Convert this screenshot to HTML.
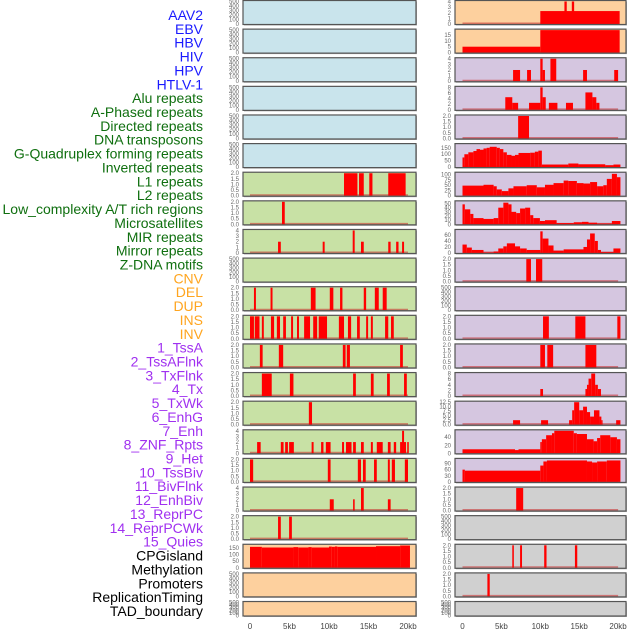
<!DOCTYPE html>
<html><head><meta charset="utf-8">
<style>
html,body{margin:0;padding:0;background:#fff;}
svg{display:block;font-family:"Liberation Sans",sans-serif;}
</style></head>
<body>
<svg id="chart" width="630" height="630" viewBox="0 0 630 630" xmlns="http://www.w3.org/2000/svg">
<g id="labels"></g>
<g id="panels"></g>
<g id="xaxis"></g>
</svg>
<script>
// ---- data ----
const featureLabels = ["AAV2","EBV","HBV","HIV","HPV","HTLV-1","Alu repeats","A-Phased repeats","Directed repeats","DNA transposons","G-Quadruplex forming repeats","Inverted repeats","L1 repeats","L2 repeats","Low_complexity A/T rich regions","Microsatellites","MIR repeats","Mirror repeats","Z-DNA motifs","CNV","DEL","DUP","INS","INV","1_TssA","2_TssAFlnk","3_TxFlnk","4_Tx","5_TxWk","6_EnhG","7_Enh","8_ZNF_Rpts","9_Het","10_TssBiv","11_BivFlnk","12_EnhBiv","13_ReprPC","14_ReprPCWk","15_Quies","CPGisland","Methylation","Promoters","ReplicationTiming","TAD_boundary"];
const labelGroups = [0,0,0,0,0,0,1,1,1,1,1,1,1,1,1,1,1,1,1,2,2,2,2,2,3,3,3,3,3,3,3,3,3,3,3,3,3,3,3,4,4,4,4,4];
const xTickLabels = ["0","5kb","10kb","15kb","20kb"];
const xTickValues = [0,5,10,15,20];

// intervals: [startKb, endKb, value]
const c1r6 = [[11.9,13.6,2],[13.8,14.4,2],[15.1,15.5,2],[17.5,19.7,2]];
const c1r7 = [[4.05,4.4,2]];
const c1r8 = [[3.55,3.9,2],[9.2,9.45,2],[13.0,13.25,4],[14.05,14.4,2],[17.5,17.8,2],[18.5,18.8,2],[19.25,19.5,2]];
const c1r10 = [[0.5,0.75,2],[2.6,2.85,2],[7.7,8.3,2],[10.1,10.55,2],[11.4,11.7,2],[14.4,14.7,2],[15.8,16.3,2],[16.8,17.3,2]];
const c1r11 = [[0,0.5,2],[0.6,1.2,2],[1.5,1.75,2],[2.65,3.05,2],[3.4,3.8,2],[4.2,4.55,2],[5.2,5.45,2],[5.95,6.2,2],[6.85,7.6,2],[8.0,8.5,2],[8.7,9.75,2],[11.25,11.9,2],[12.4,12.8,2],[13.55,13.9,2],[14.7,14.95,2],[15.3,15.55,2],[17.1,17.5,2],[17.85,18.2,2]];
const c1r12 = [[1.25,1.6,2],[3.65,4.2,2],[11.75,12.1,2],[12.25,12.65,2],[19.0,19.35,2]];
const c1r13 = [[1.5,2.75,2],[5.05,5.5,2],[13.05,13.4,2],[15.3,15.65,2],[17.35,17.7,2],[19.5,19.85,2]];
const c1r14 = [[7.45,7.85,2]];
const c1r15 = [[0.9,1.35,2],[3.9,4.25,2],[4.45,4.8,2],[4.95,5.55,2],[7.8,8.05,2],[9.0,9.3,2],[9.6,10.2,2],[11.65,11.9,2],[12.15,12.85,2],[13.05,13.4,2],[14.05,14.4,2],[15.3,15.55,2],[16.05,16.8,2],[17.45,17.8,2],[18.2,18.5,2],[19.0,19.75,2],[19.25,19.5,4],[19.9,20.1,2]];
const c1r16 = [[0,0.4,2],[9.85,10.2,2],[13.65,14.05,2],[14.3,14.65,2],[15.7,16.05,2],[17.45,17.7,2],[17.95,18.35,2],[19.6,20.0,2]];
const c1r17 = [[10.1,10.6,2],[13.05,13.25,2],[14.05,14.4,4],[17.45,17.8,2]];
const c1r18 = [[3.55,3.9,2],[4.95,5.3,2]];
const c1r19 = [[0,1.5,160],[1.5,5.5,155],[5.5,6.1,158],[6.1,7.4,155],[7.4,7.8,158],[7.8,10.0,155],[10.0,10.35,162],[10.35,10.75,160],[10.75,11.05,163],[11.05,15.95,160],[15.95,19.0,165],[19.0,20.25,170]];

const c2r0 = [[10.0,20.2,2.3],[13.1,13.4,4],[14.05,14.35,4]];
const c2r1 = [[0,10.0,5],[10.0,20.2,19]];
const c2r2 = [[6.5,7.4,2],[8.3,8.8,2],[10.0,10.3,4],[10.3,10.6,2],[11.3,12.05,4],[15.5,16.0,2],[19.5,20.0,2]];
const c2r3 = [[5.5,6.4,4.5],[6.4,7.15,2.5],[8.55,10.0,2.5],[10.0,10.3,8],[10.3,10.7,4.5],[11.1,12.2,2.5],[13.3,14.2,2.5],[15.8,16.7,6.2],[16.7,17.2,4.5],[17.2,17.6,2.5]];
const c2r4 = [[7.15,8.55,2]];
const c2r5 = [[0,0.24,75],[0.24,0.75,100],[0.75,1.4,115],[1.4,1.8,125],[1.8,2.25,140],[2.25,2.7,135],[2.7,3.1,145],[3.1,3.5,150],[3.5,4.4,158],[4.4,4.8,150],[4.8,5.25,140],[5.25,5.7,115],[5.7,6.3,95],[6.3,6.75,88],[6.75,7.2,95],[7.2,8.7,110],[8.7,9.3,112],[9.3,9.75,120],[9.75,10.2,128],[10.2,13.6,20],[13.6,14.9,28],[14.9,18.35,22],[18.35,19.4,15],[19.4,20.3,20]];
const c2r6 = [[0,2.7,48],[2.7,4.0,52],[4.0,4.4,45],[4.4,5.05,30],[5.05,5.9,22],[5.9,6.55,35],[6.55,8.25,45],[8.25,9.55,50],[9.55,10.6,40],[10.6,11.7,52],[11.7,13.0,60],[13.0,13.6,72],[13.6,14.7,70],[14.7,15.55,60],[15.55,16.4,58],[16.4,17.3,65],[17.3,18.1,45],[18.1,18.55,50],[18.55,19.2,80],[19.2,19.85,104],[19.85,20.3,88]];
const c2r7 = [[0,0.3,48],[0.3,1.0,36],[1.0,1.4,25],[1.4,2.7,15],[2.7,4.0,13],[4.0,4.6,15],[4.6,5.25,40],[5.25,5.9,52],[5.9,6.3,48],[6.3,6.9,30],[6.9,7.4,27],[7.4,8.05,38],[8.05,8.7,40],[8.7,9.1,22],[9.1,9.95,15],[9.95,10.6,8],[10.6,12.1,10],[12.1,14.3,3],[14.3,15.35,5],[15.35,16.2,6],[16.2,17.3,4],[17.3,19.2,2],[19.2,20.3,8]];
const c2r8 = [[0,0.55,28],[0.55,1.2,18],[1.2,2.7,10],[2.7,4.0,2],[4.0,4.6,5],[4.6,5.25,15],[5.25,5.7,22],[5.7,6.75,32],[6.75,7.4,22],[7.4,8.25,15],[8.25,10.0,10],[10.0,10.3,72],[10.3,11.05,48],[11.05,11.7,25],[11.7,13.0,8],[13.0,15.55,12],[15.55,16.0,20],[16.0,16.4,45],[16.4,17.0,65],[17.0,17.4,40],[17.4,17.8,10],[17.8,19.4,3],[19.4,20.3,15]];
const c2r9 = [[8.2,8.8,2],[9.45,10.25,2]];
const c2r11 = [[10.35,11.1,2],[14.5,15.8,2],[19.9,20.3,2]];
const c2r12 = [[10.0,10.6,2],[10.9,11.65,2],[15.8,17.2,2]];
const c2r13 = [[10.0,10.35,2.5],[15.8,16.0,2.5],[16.0,16.2,4],[16.2,16.55,6.2],[16.55,17.05,8],[17.05,17.4,4],[17.4,17.8,2.5]];
const c2r14 = [[6.5,7.4,2.5],[10.1,11.0,2.5],[13.7,14.1,2.5],[14.1,14.35,8],[14.35,15.0,12.5],[15.0,15.5,8],[15.5,16.0,10],[16.0,16.4,7],[16.4,16.9,4.5],[16.9,17.6,8],[17.6,17.85,4.5],[17.85,18.0,2.5],[19.75,20.3,2.5]];
const c2r15 = [[0,6.75,10],[6.75,7.2,8],[7.2,10.0,10],[10.0,10.2,28],[10.2,10.75,35],[10.75,11.5,45],[11.5,11.8,50],[11.8,14.3,56],[14.3,14.7,50],[14.7,16.0,48],[16.0,16.85,35],[16.85,17.3,30],[17.3,17.7,38],[17.7,19.0,45],[19.0,19.85,40],[19.85,20.3,35]];
const c2r16 = [[0,0.3,60],[0.3,10.0,55],[10.0,10.4,80],[10.4,10.85,100],[10.85,16.0,105],[16.0,16.65,100],[16.65,17.3,95],[17.3,18.55,100],[18.55,20.3,105]];
const c2r17 = [[6.9,7.8,2]];
const c2r19 = [[6.4,6.6,2],[7.4,7.65,2],[10.5,10.8,2],[14.45,14.75,2]];
const c2r20 = [[3.2,3.5,2]];
const empty = [];

const ticks500 = ["0","100","200","300","400","500"];
const ticks2 = ["0.0","0.5","1.0","1.5","2.0"];
const ticks4 = ["0","1","2","3","4"];
const ticks8 = ["0","2","4","6","8"];
const ticksGQ = ["0","50","100","150"];
const ticksL1 = ["0","25","50","75","100"];
const ticksL2 = ["0","10","20","30","40","50"];
const ticksMIR = ["0","20","40","60"];
const ticksEBV = ["0","5","10","15"];
const ticksEnh = ["0.0","2.5","5.0","7.5","10.0","12.5"];
const ticksZNF = ["0","20","40"];
const ticksHet = ["0","30","60","90"];
const ticksCpG = ["0","50","100","150"];

const BG = {blue:"#c9e4ec",green:"#c8e1a5",orange:"#fdd09e",purple:"#d5c6e0",gray:"#d0d0d0"};
// panel specs: col, row, bg, ymax, ticks, data
const panelSpecs = [];
function addP(col,row,bg,ymax,ticks,data,name){panelSpecs.push({col,row,bg,ymax,ticks,data,name});}
for(let r=0;r<6;r++) addP(0,r,"blue",500,ticks500,empty,"c1-row"+r);
addP(0,6,"green",2,ticks2,c1r6,"c1-row6");
addP(0,7,"green",2,ticks2,c1r7,"c1-row7");
addP(0,8,"green",4,ticks4,c1r8,"c1-row8");
addP(0,9,"green",500,ticks500,empty,"c1-row9");
addP(0,10,"green",2,ticks2,c1r10,"c1-row10");
addP(0,11,"green",2,ticks2,c1r11,"c1-row11");
addP(0,12,"green",2,ticks2,c1r12,"c1-row12");
addP(0,13,"green",2,ticks2,c1r13,"c1-row13");
addP(0,14,"green",2,ticks2,c1r14,"c1-row14");
addP(0,15,"green",4,ticks4,c1r15,"c1-row15");
addP(0,16,"green",2,ticks2,c1r16,"c1-row16");
addP(0,17,"green",4,ticks4,c1r17,"c1-row17");
addP(0,18,"green",2,ticks2,c1r18,"c1-row18");
addP(0,19,"orange",172,ticksCpG,c1r19,"c1-row19");
addP(0,20,"orange",500,ticks500,empty,"c1-row20");
addP(0,21,"orange",500,ticks500,empty,"c1-row21");

addP(1,0,"orange",4,ticks4,c2r0,"c2-row0");
addP(1,1,"orange",19,ticksEBV,c2r1,"c2-row1");
addP(1,2,"purple",4,ticks4,c2r2,"c2-row2");
addP(1,3,"purple",8,ticks8,c2r3,"c2-row3");
addP(1,4,"purple",2,ticks2,c2r4,"c2-row4");
addP(1,5,"purple",175,ticksGQ,c2r5,"c2-row5");
addP(1,6,"purple",107,ticksL1,c2r6,"c2-row6");
addP(1,7,"purple",54,ticksL2,c2r7,"c2-row7");
addP(1,8,"purple",75,ticksMIR,c2r8,"c2-row8");
addP(1,9,"purple",2,ticks2,c2r9,"c2-row9");
addP(1,10,"purple",500,ticks500,empty,"c2-row10");
addP(1,11,"purple",2,ticks2,c2r11,"c2-row11");
addP(1,12,"purple",2,ticks2,c2r12,"c2-row12");
addP(1,13,"purple",8,ticks8,c2r13,"c2-row13");
addP(1,14,"purple",12.5,ticksEnh,c2r14,"c2-row14");
addP(1,15,"purple",56,ticksZNF,c2r15,"c2-row15");
addP(1,16,"purple",110,ticksHet,c2r16,"c2-row16");
addP(1,17,"gray",2,ticks2,c2r17,"c2-row17");
addP(1,18,"gray",500,ticks500,empty,"c2-row18");
addP(1,19,"gray",2,ticks2,c2r19,"c2-row19");
addP(1,20,"gray",2,ticks2,c2r20,"c2-row20");
addP(1,21,"gray",500,ticks500,empty,"c2-row21");

// ---- layout ----
const NS="http://www.w3.org/2000/svg";
const colX=[{l:243,r:416,x0:250,k:7.9},{l:455,r:626,x0:462.5,k:7.78}];
const ROWPITCH=28.62;
function rowTop(r){return 0.5+r*ROWPITCH;}
function rowH(r){return r===21?14.5:24;}
function xScale(col,kb){return colX[col].x0+kb*colX[col].k;}
function mk(tag,attrs,parent){const e=document.createElementNS(NS,tag);for(const k in attrs)e.setAttribute(k,attrs[k]);parent.appendChild(e);return e;}

const labelColors=["#1a1aff","#0f6f0f","#ffa51f","#a030f0","#000000"];
const lg=document.getElementById("labels");
featureLabels.forEach((t,i)=>{
  const e=mk("text",{x:203,y:20+i*13.86,"text-anchor":"end","font-size":"14",fill:labelColors[labelGroups[i]]},lg);
  
  
  e.textContent=t;
});

const pg=document.getElementById("panels");
panelSpecs.forEach(p=>{
  const c=colX[p.col],top=rowTop(p.row),h=rowH(p.row),bot=top+h;
  const g=mk("g",{},pg);
  
  
  mk("rect",{x:c.l+1,y:top+1,width:c.r-c.l,height:h,fill:"#b0b0b0"},g);
  const bg=mk("rect",{x:c.l,y:top,width:c.r-c.l,height:h,fill:BG[p.bg]},g);
  
  
  const plotH=h-1.5;
  const yS=v=>bot-0.5-v/p.ymax*plotH;
  if(p.data.length){
    const bl=mk("line",{x1:xScale(p.col,0),x2:xScale(p.col,20),y1:bot-1.2,y2:bot-1.2,stroke:"rgba(200,40,40,0.55)","stroke-width":"1.6"},g);
    
    
  }
  p.data.forEach(d=>{
    const x1=xScale(p.col,d[0]),x2=xScale(p.col,d[1]);
    const y=yS(d[2]);
    const b=mk("rect",{x:x1,y:y,width:Math.max(1.2,x2-x1),height:bot-0.5-y,fill:"#ff0000"},g);
    
    
  });
  mk("rect",{x:c.l,y:top,width:c.r-c.l,height:h,fill:"none",stroke:"#555","stroke-width":"1.2"},g);
  // y ticks
  const n=p.ticks.length;
  const tmax=parseFloat(p.ticks[n-1]);
  p.ticks.forEach(t=>{
    const v=parseFloat(t);
    const tx=mk("text",{x:c.l-4,y:yS(v)+2,"text-anchor":"end","font-size":"6",fill:"#666"},g);
    
    
    tx.textContent=t;
  });
});

const xg=document.getElementById("xaxis");
[0,1].forEach(col=>{
  xTickValues.forEach((v,i)=>{
    const t=mk("text",{x:xScale(col,v),y:629,"text-anchor":"middle","font-size":"8",fill:"#444"},xg);
    
    
    t.textContent=xTickLabels[i];
  });
});
</script>
</body></html>
